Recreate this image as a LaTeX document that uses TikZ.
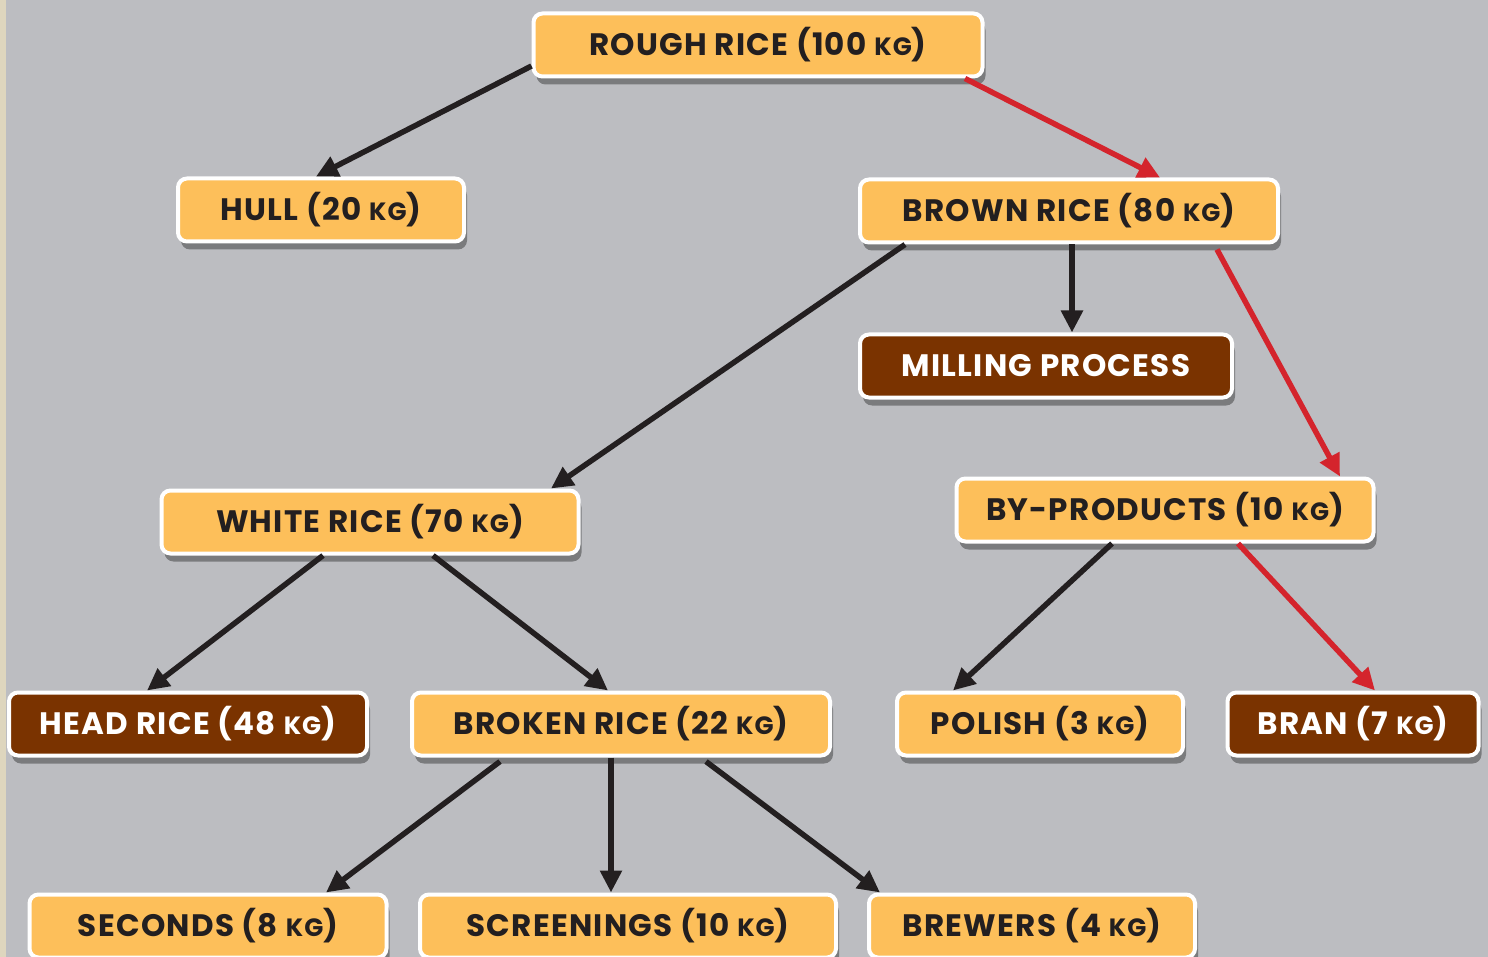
\documentclass[tikz,border=0pt]{standalone}
\usepackage{fontspec}
\setmainfont{Poppins}[LetterSpace=4]
\usepackage{xcolor}
\usetikzlibrary{arrows.meta,shadows,calc}
\definecolor{paper}{RGB}{222,214,190}
\definecolor{slate}{RGB}{188,189,193}
\definecolor{grain}{RGB}{253,191,90}
\definecolor{husk}{RGB}{122,51,0}
\definecolor{ink}{RGB}{35,31,32}
\definecolor{redflow}{RGB}{212,36,44}
\newcommand{\kgunit}{{\fontsize{25}{25}\selectfont KG}}

\begin{document}
\begin{tikzpicture}[x=1pt, y=-1pt,
    box/.style={
      rectangle, rounded corners=9pt, draw=white, line width=4pt,
      fill=grain, text=ink, minimum height=63pt, inner sep=0pt,
      font=\fontsize{31}{31}\selectfont\bfseries,
      drop shadow={shadow xshift=3pt, shadow yshift=-8pt, fill=black, opacity=0.35}
    },
    darkbox/.style={box, fill=husk, text=white},
    flow/.style={-{Triangle[length=22pt,width=21pt]}, line width=5.5pt, draw=ink},
    redarrow/.style={flow, draw=redflow}
  ]
  % background
  \fill[slate] (0,0) rectangle (1488,957);
  \fill[paper] (0,0) rectangle (6,957);
  \useasboundingbox (0,0) rectangle (1488,957);

  \node[box, minimum width=449pt]     (rough)   at (758,45)   {ROUGH RICE (100 \kgunit)};
  \node[box, minimum width=286pt]     (hull)    at (321,210)  {HULL (20 \kgunit)};
  \node[box, minimum width=418pt]     (brown)   at (1069,211) {BROWN RICE (80 \kgunit)};
  \node[darkbox, minimum width=372pt] (milling) at (1046,366) {MILLING PROCESS};
  \node[box, minimum width=417pt]     (white)   at (370,522)  {WHITE RICE (70 \kgunit)};
  \node[box, minimum width=417pt]     (byprod)  at (1165,510) {BY-PRODUCTS (10 \kgunit)};
  \node[darkbox, minimum width=358pt] (head)    at (188,724)  {HEAD RICE (48 \kgunit)};
  \node[box, minimum width=418pt]     (broken)  at (621,724)  {BROKEN RICE (22 \kgunit)};
  \node[box, minimum width=286pt]     (polish)  at (1040,724) {POLISH (3 \kgunit)};
  \node[darkbox, minimum width=251pt] (bran)    at (1353,724) {BRAN (7 \kgunit)};
  \node[box, minimum width=357pt]     (seconds) at (208,926)  {SECONDS (8 \kgunit)};
  \node[box, minimum width=416pt]     (screen)  at (628,926)  {SCREENINGS (10 \kgunit)};
  \node[box, minimum width=326pt]     (brewers) at (1032,926) {BREWERS (4 \kgunit)};

  \draw[flow]     ([yshift=-21pt]rough.west)     -- ([xshift=-5pt]hull.north);
  \draw[redarrow] ([xshift=207pt]rough.south)    -- ([xshift=91pt]brown.north);
  \draw[flow]     ([xshift=-164pt]brown.south)   -- ([xshift=181pt]white.north);
  \draw[flow]     ([xshift=3pt]brown.south)      -- ([xshift=26pt]milling.north);
  \draw[redarrow] ([xshift=148pt,yshift=-5pt]brown.south) -- ([xshift=175pt]byprod.north);
  \draw[flow]     ([xshift=-47pt]white.south)    -- ([xshift=-41pt]head.north);
  \draw[flow]     ([xshift=63pt]white.south)     -- ([xshift=-13pt]broken.north);
  \draw[flow]     ([xshift=-53pt]byprod.south)   -- ([xshift=-87pt]polish.north);
  \draw[redarrow] ([xshift=73pt]byprod.south)    -- ([xshift=22pt]bran.north);
  \draw[flow]     ([xshift=-121pt,yshift=-4pt]broken.south) -- ([xshift=118pt]seconds.north);
  \draw[flow]     ([xshift=-10pt]broken.south)   -- ([xshift=-17pt]screen.north);
  \draw[flow]     ([xshift=85pt,yshift=-4pt]broken.south)  -- ([xshift=-152pt]brewers.north);
\end{tikzpicture}
\end{document}
